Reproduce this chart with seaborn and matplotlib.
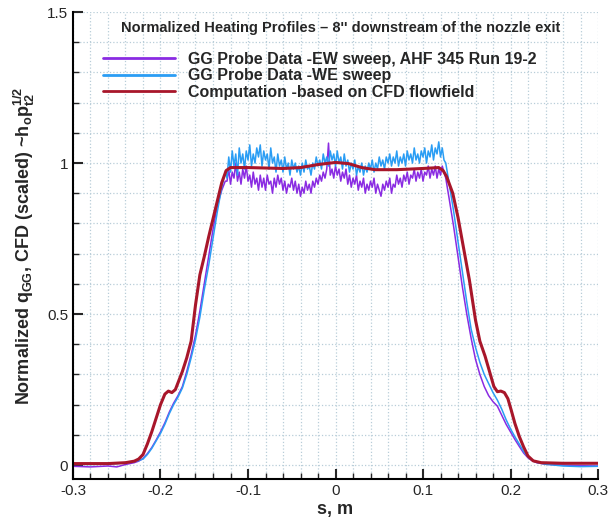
import numpy as np
import pandas as pd
import seaborn as sns
import matplotlib
matplotlib.use("Agg")
import matplotlib.pyplot as plt
from matplotlib.ticker import MultipleLocator

# probe sample positions (m)
s_left = [-0.3, -0.28, -0.26, -0.25, -0.24, -0.23, -0.225, -0.22, -0.215, -0.21,
          -0.205, -0.2, -0.195, -0.19, -0.185, -0.18, -0.175, -0.17, -0.165, -0.16,
          -0.155, -0.15, -0.145, -0.14, -0.135, -0.13, -0.126]
s_mid = [-0.124, -0.122, -0.120, -0.118, -0.116, -0.114, -0.112, -0.110, -0.108, -0.106,
         -0.104, -0.102, -0.100, -0.098, -0.096, -0.094, -0.092, -0.090, -0.088, -0.086,
         -0.084, -0.082, -0.080, -0.078, -0.076, -0.074, -0.072, -0.070, -0.068, -0.066,
         -0.064, -0.062, -0.060, -0.058, -0.056, -0.054, -0.052, -0.050, -0.048, -0.046,
         -0.044, -0.042, -0.040, -0.038, -0.036, -0.034, -0.032, -0.030, -0.028, -0.026,
         -0.024, -0.022, -0.020, -0.018, -0.016, -0.014, -0.012, -0.010, -0.008, -0.006,
         -0.004, -0.002, 0.000, 0.002, 0.004, 0.006, 0.008, 0.010, 0.012, 0.014,
         0.016, 0.018, 0.020, 0.022, 0.024, 0.026, 0.028, 0.030, 0.032, 0.034,
         0.036, 0.038, 0.040, 0.042, 0.044, 0.046, 0.048, 0.050, 0.052, 0.054,
         0.056, 0.058, 0.060, 0.062, 0.064, 0.066, 0.068, 0.070, 0.072, 0.074,
         0.076, 0.078, 0.080, 0.082, 0.084, 0.086, 0.088, 0.090, 0.092, 0.094,
         0.096, 0.098, 0.100, 0.102, 0.104, 0.106, 0.108, 0.110, 0.112, 0.114,
         0.116, 0.118, 0.120, 0.122, 0.124]
s_right = [0.126, 0.13, 0.135, 0.14, 0.145, 0.15, 0.155, 0.16, 0.165, 0.17,
           0.175, 0.18, 0.185, 0.19, 0.195, 0.2, 0.205, 0.21, 0.215, 0.22,
           0.225, 0.23, 0.24, 0.25, 0.26, 0.28, 0.3]

# GG probe, EW sweep
ew_left = [-0.004, -0.006, -0.003, -0.006, 0.002, 0.008, 0.013, 0.022, 0.038, 0.058,
           0.083, 0.11, 0.14, 0.175, 0.205, 0.23, 0.26, 0.31, 0.365, 0.43,
           0.51, 0.6, 0.69, 0.78, 0.86, 0.91, 0.94]
ew_mid = [0.94, 0.98, 0.93, 0.97, 0.95, 1.00, 0.94, 0.97, 0.93, 0.98,
          0.95, 0.99, 0.94, 0.96, 0.92, 0.97, 0.93, 0.95, 0.91, 0.96,
          0.92, 0.95, 0.91, 0.96, 0.93, 0.94, 0.90, 0.95, 0.92, 0.96,
          0.93, 0.95, 0.91, 0.94, 0.90, 0.93, 0.92, 0.95, 0.91, 0.94,
          0.90, 0.93, 0.89, 0.92, 0.90, 0.94, 0.91, 0.93, 0.90, 0.94,
          0.92, 0.95, 0.93, 0.96, 0.94, 0.97, 0.95, 0.98, 1.066, 0.96,
          0.98, 0.95, 0.99, 0.96, 0.98, 0.94, 0.97, 0.95, 0.98, 0.93,
          0.96, 0.92, 0.95, 0.93, 0.96, 0.91, 0.94, 0.92, 0.95, 0.90,
          0.93, 0.91, 0.94, 0.92, 0.95, 0.90, 0.93, 0.91, 0.89, 0.93,
          0.91, 0.94, 0.92, 0.95, 0.90, 0.93, 0.92, 0.96, 0.93, 0.95,
          0.92, 0.96, 0.94, 0.97, 0.93, 0.96, 0.95, 0.98, 0.94, 0.97,
          0.95, 0.98, 0.94, 0.97, 0.96, 0.99, 0.95, 0.98, 0.96, 0.99,
          0.95, 0.98, 0.96, 0.99, 0.97]
ew_right = [0.95, 0.88, 0.79, 0.69, 0.59, 0.5, 0.42, 0.35, 0.3, 0.26,
            0.23, 0.21, 0.195, 0.165, 0.135, 0.11, 0.085, 0.062, 0.04, 0.024,
            0.014, 0.008, 0.003, 0.001, 0.0, -0.002, -0.003]

# GG probe, WE sweep
we_left = [0.003, 0.002, 0.004, 0.005, 0.008, 0.012, 0.015, 0.02, 0.035, 0.055,
           0.08, 0.105, 0.135, 0.17, 0.2, 0.225, 0.255, 0.3, 0.355, 0.415,
           0.49, 0.58, 0.66, 0.75, 0.84, 0.92, 0.97]
we_mid = [0.95, 1.02, 0.97, 1.04, 0.99, 1.03, 0.96, 1.05, 1.00, 1.03,
          0.98, 1.04, 1.01, 1.06, 0.99, 1.03, 1.00, 1.05, 1.02, 1.06,
          0.99, 1.04, 1.01, 1.03, 0.98, 1.05, 1.00, 1.02, 0.97, 1.03,
          0.99, 1.01, 0.97, 1.02, 0.98, 1.00, 0.96, 1.01, 0.98, 1.00,
          0.97, 0.99, 0.96, 1.00, 0.97, 1.01, 0.98, 0.99, 0.96, 1.00,
          0.98, 1.02, 0.99, 1.01, 0.98, 1.03, 1.00, 1.02, 0.99, 1.04,
          1.01, 1.03, 0.99, 1.04, 1.00, 1.02, 0.98, 1.03, 0.99, 1.01,
          0.97, 1.00, 0.98, 1.01, 0.96, 0.99, 0.97, 1.00, 0.96, 0.99,
          0.97, 1.00, 0.98, 1.01, 0.97, 1.00, 0.98, 1.02, 0.99, 1.01,
          0.98, 1.02, 1.00, 1.03, 0.99, 1.02, 1.00, 1.04, 0.99, 1.02,
          1.00, 1.03, 0.99, 1.04, 1.01, 1.03, 1.00, 1.05, 1.01, 1.03,
          1.00, 1.04, 1.02, 1.05, 1.00, 1.04, 1.02, 1.06, 1.01, 1.05,
          1.03, 1.07, 1.02, 1.05, 1.01]
we_right = [1.0, 0.93, 0.84, 0.74, 0.64, 0.54, 0.45, 0.39, 0.34, 0.3,
            0.27, 0.24, 0.215, 0.185, 0.15, 0.12, 0.094, 0.07, 0.045, 0.027,
            0.016, 0.009, 0.003, 0.0, -0.003, -0.005, -0.004]

# CFD based computation
s_cfd = [-0.3, -0.26, -0.24, -0.23, -0.225, -0.22, -0.215, -0.21, -0.205, -0.2,
         -0.195, -0.191, -0.187, -0.183, -0.179, -0.175, -0.17, -0.165, -0.16, -0.155,
         -0.15, -0.145, -0.14, -0.135, -0.13, -0.125, -0.12, -0.1, -0.06, -0.04,
         -0.02, 0.0, 0.015, 0.03, 0.045, 0.07, 0.1, 0.118, 0.123, 0.127,
         0.134, 0.14, 0.145, 0.153, 0.16, 0.165, 0.171, 0.177, 0.181, 0.185,
         0.189, 0.193, 0.197, 0.201, 0.205, 0.21, 0.215, 0.22, 0.226, 0.235,
         0.26, 0.3]
q_cfd = [0.005, 0.005, 0.008, 0.013, 0.02, 0.035, 0.07, 0.11, 0.155, 0.2,
         0.235, 0.245, 0.24, 0.25, 0.28, 0.31, 0.355, 0.41, 0.53, 0.63,
         0.69, 0.755, 0.815, 0.875, 0.935, 0.975, 0.985, 0.985, 0.982, 0.985,
         0.995, 1.002, 0.998, 0.985, 0.978, 0.978, 0.982, 0.985, 0.975, 0.955,
         0.9, 0.82, 0.74, 0.613, 0.48, 0.41, 0.36, 0.3, 0.26, 0.243,
         0.245, 0.24, 0.22, 0.18, 0.138, 0.095, 0.06, 0.03, 0.014, 0.008,
         0.006, 0.006]

labels = ["GG Probe Data -EW sweep, AHF 345 Run 19-2",
          "GG Probe Data -WE sweep",
          "Computation -based on CFD flowfield"]
colors = ["#8A2BE2", "#2A9DF4", "#A8162A"]

s_probe = s_left + s_mid + s_right
df = pd.concat([
    pd.DataFrame({"s": s_probe, "q": ew_left + ew_mid + ew_right, "src": labels[0]}),
    pd.DataFrame({"s": s_probe, "q": we_left + we_mid + we_right, "src": labels[1]}),
    pd.DataFrame({"s": s_cfd, "q": q_cfd, "src": labels[2]}),
])

sns.set_style("white")
plt.rcParams["font.family"] = ["Liberation Sans", "DejaVu Sans"]
plt.rcParams["mathtext.fontset"] = "custom"
plt.rcParams["mathtext.rm"] = "Liberation Sans:bold"
plt.rcParams["mathtext.it"] = "Liberation Sans:bold"

fig = plt.figure(figsize=(6.16, 5.22), dpi=100)
ax = fig.add_axes([0.1185, 0.0824, 0.8523, 0.8946])

sns.lineplot(data=df, x="s", y="q", hue="src", palette=dict(zip(labels, colors)),
             size="src", sizes={labels[0]: 1.1, labels[1]: 1.1, labels[2]: 2.2},
             estimator=None, sort=False, ax=ax)

ax.set_xlim(-0.3, 0.3)
ax.set_ylim(-0.046, 1.5)
ax.xaxis.set_minor_locator(MultipleLocator(0.02))
ax.yaxis.set_minor_locator(MultipleLocator(0.1))
ax.set_xticks([-0.3, -0.2, -0.1, 0, 0.1, 0.2, 0.3])
ax.set_xticklabels(["-0.3", "-0.2", "-0.1", "0", "0.1", "0.2", "0.3"])
ax.set_yticks([0, 0.5, 1, 1.5])
ax.set_yticklabels(["0", "0.5", "1", "1.5"])
ax.tick_params(which="major", direction="in", length=7, width=1.5, labelsize=11,
               top=False, right=False, bottom=True, left=True)
ax.tick_params(which="minor", direction="in", length=4, width=1,
               top=False, right=False, bottom=True, left=True)
ax.grid(which="both", color="#b8cdd8", linestyle=":", linewidth=0.9)
ax.set_axisbelow(True)
for side in ["top", "right"]:
    ax.spines[side].set_visible(False)
for side in ["left", "bottom"]:
    ax.spines[side].set_linewidth(1.5)
    ax.spines[side].set_color("black")

ax.set_xlabel("s, m", fontsize=13, fontweight="bold", labelpad=2)
ax.set_ylabel(r"Normalized q$_{\mathrm{GG}}$, CFD (scaled) ~h$_{\mathrm{o}}$p$_{\mathrm{t2}}^{\mathrm{1/2}}$",
              fontsize=13, fontweight="bold", labelpad=7.5)

ax.text(0.51, 0.966, "Normalized Heating Profiles \u2013 8'' downstream of the nozzle exit",
        transform=ax.transAxes, ha="center", va="center", fontsize=10.5, fontweight="bold")

handles, _ = ax.get_legend_handles_labels()
ax.legend(handles=handles[:3] if len(handles) == 3 else None, labels=labels,
          loc="upper left", bbox_to_anchor=(0.03, 0.945), frameon=False,
          prop={"weight": "bold", "size": 11.5}, handlelength=4.5,
          labelspacing=0.08, handletextpad=0.8)
leg = ax.get_legend()
for line, c in zip(leg.get_lines(), colors):
    line.set_color(c)
    line.set_linewidth(2)

fig.savefig("out.png", dpi=100)
